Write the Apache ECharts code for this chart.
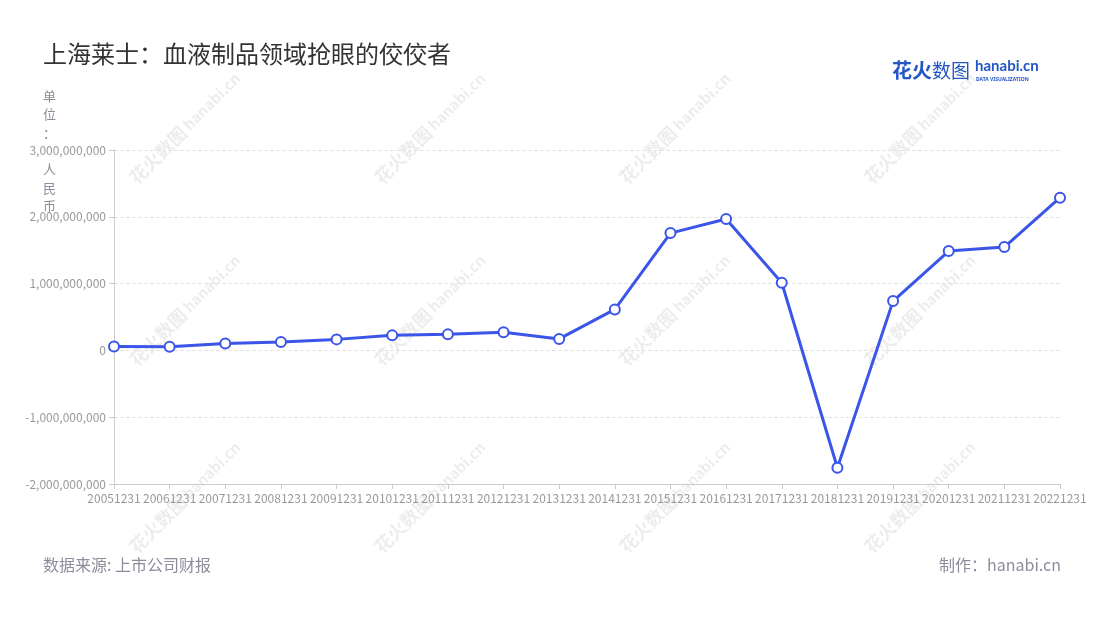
<!DOCTYPE html>
<html>
<head>
<meta charset="utf-8">
<script src="https://cdn.jsdelivr.net/npm/echarts@6/dist/echarts.min.js"></script>
<style>html,body{margin:0;padding:0;background:#fff}#c{width:1100px;height:620px}</style>
</head>
<body>
<div id="c"></div>
<script>
const categories = ['20051231','20061231','20071231','20081231','20091231','20101231','20111231','20121231','20131231','20141231','20151231','20161231','20171231','20181231','20191231','20201231','20211231','20221231'];
const netProfit = [58000000, 55000000, 102000000, 127000000, 165000000, 225000000, 240000000, 270000000, 172000000, 614000000, 1756000000, 1966000000, 1013000000, -1756000000, 738000000, 1487000000, 1547000000, 2286000000];
const yTicks = { min: -2000000000, max: 3000000000, interval: 1000000000 };

const FONT = '"Noto Sans CJK SC", "Noto Sans", sans-serif';
const wm = [];
const wmX = [185, 430, 675, 920];
const wmY = [128, 310, 497];
wmY.forEach(y => wmX.forEach(x => {
  wm.push({
    type: 'text', x: x, y: y, rotation: Math.PI / 4, silent: true, z: 0,
    style: {
      text: '{a|花火数图} {b|hanabi.cn}',
      align: 'center', verticalAlign: 'middle',
      rich: {
        a: { fill: 'rgba(0,0,0,0.075)', font: 'bold 18px ' + FONT },
        b: { fill: 'rgba(0,0,0,0.075)', font: 'bold 15px ' + FONT }
      }
    }
  });
}));

const chart = echarts.init(document.getElementById('c'));
chart.setOption({
  backgroundColor: '#fff',
  animation: false,
  textStyle: { fontFamily: FONT },
  title: {
    text: '上海莱士：血液制品领域抢眼的佼佼者',
    left: 38, top: 37,
    textStyle: { fontSize: 24, fontWeight: 'normal', color: '#333', fontFamily: FONT }
  },
  grid: { left: 114, right: 40, top: 150, bottom: 136 },
  xAxis: {
    type: 'category',
    data: categories,
    boundaryGap: false,
    axisLine: { onZero: false, lineStyle: { color: '#ccc' } },
    axisTick: { show: true, alignWithLabel: true, lineStyle: { color: '#ccc' } },
    axisLabel: { interval: 0, color: '#999', fontSize: 12, margin: 8, fontFamily: FONT }
  },
  yAxis: {
    type: 'value',
    min: yTicks.min, max: yTicks.max, interval: yTicks.interval,
    axisLine: { show: true, lineStyle: { color: '#ccc' } },
    axisTick: { show: true, lineStyle: { color: '#ccc' } },
    axisLabel: {
      color: '#999', fontSize: 12, fontFamily: FONT,
      formatter: v => v.toLocaleString('en-US')
    },
    splitLine: { lineStyle: { type: 'dashed', color: '#e3e3e3' } }
  },
  series: [{
    type: 'line',
    data: netProfit,
    symbol: 'circle',
    symbolSize: 10,
    lineStyle: { color: '#3a55e8', width: 3 },
    itemStyle: { color: '#fff', borderColor: '#3a55e8', borderWidth: 2 },
    z: 5
  }],
  graphic: wm.concat([
    {
      type: 'text', left: 43, top: 87, z: 10,
      style: { text: '单\n位\n：\n\n人\n民\n币', fill: '#8c8c9c', font: '13px ' + FONT, lineHeight: 18.3 }
    },
    {
      type: 'text', left: 892, top: 60, z: 10,
      style: { text: '花火', fill: '#2456c9', font: 'bold 20px ' + FONT }
    },
    {
      type: 'text', left: 932, top: 61, z: 10,
      style: { text: '数图', fill: '#2456c9', font: '19px ' + FONT }
    },
    {
      type: 'text', left: 975, top: 59, z: 10,
      style: { text: 'hanabi.cn', fill: '#2456c9', font: 'bold 15px "Lato", "Noto Sans", sans-serif' }
    },
    {
      type: 'text', left: 976, top: 77, z: 10,
      style: { text: 'DATA VISUALIZATION', fill: '#2456c9', font: 'bold 5px "Noto Sans", sans-serif' }
    },
    {
      type: 'text', left: 43, top: 557, z: 10,
      style: { text: '数据来源: 上市公司财报', fill: '#8c8c9c', font: '16px ' + FONT }
    },
    {
      type: 'text', right: 39, top: 557, z: 10,
      style: { text: '制作：hanabi.cn', fill: '#8c8c9c', font: '16px ' + FONT }
    }
  ])
});
</script>
</body>
</html>
